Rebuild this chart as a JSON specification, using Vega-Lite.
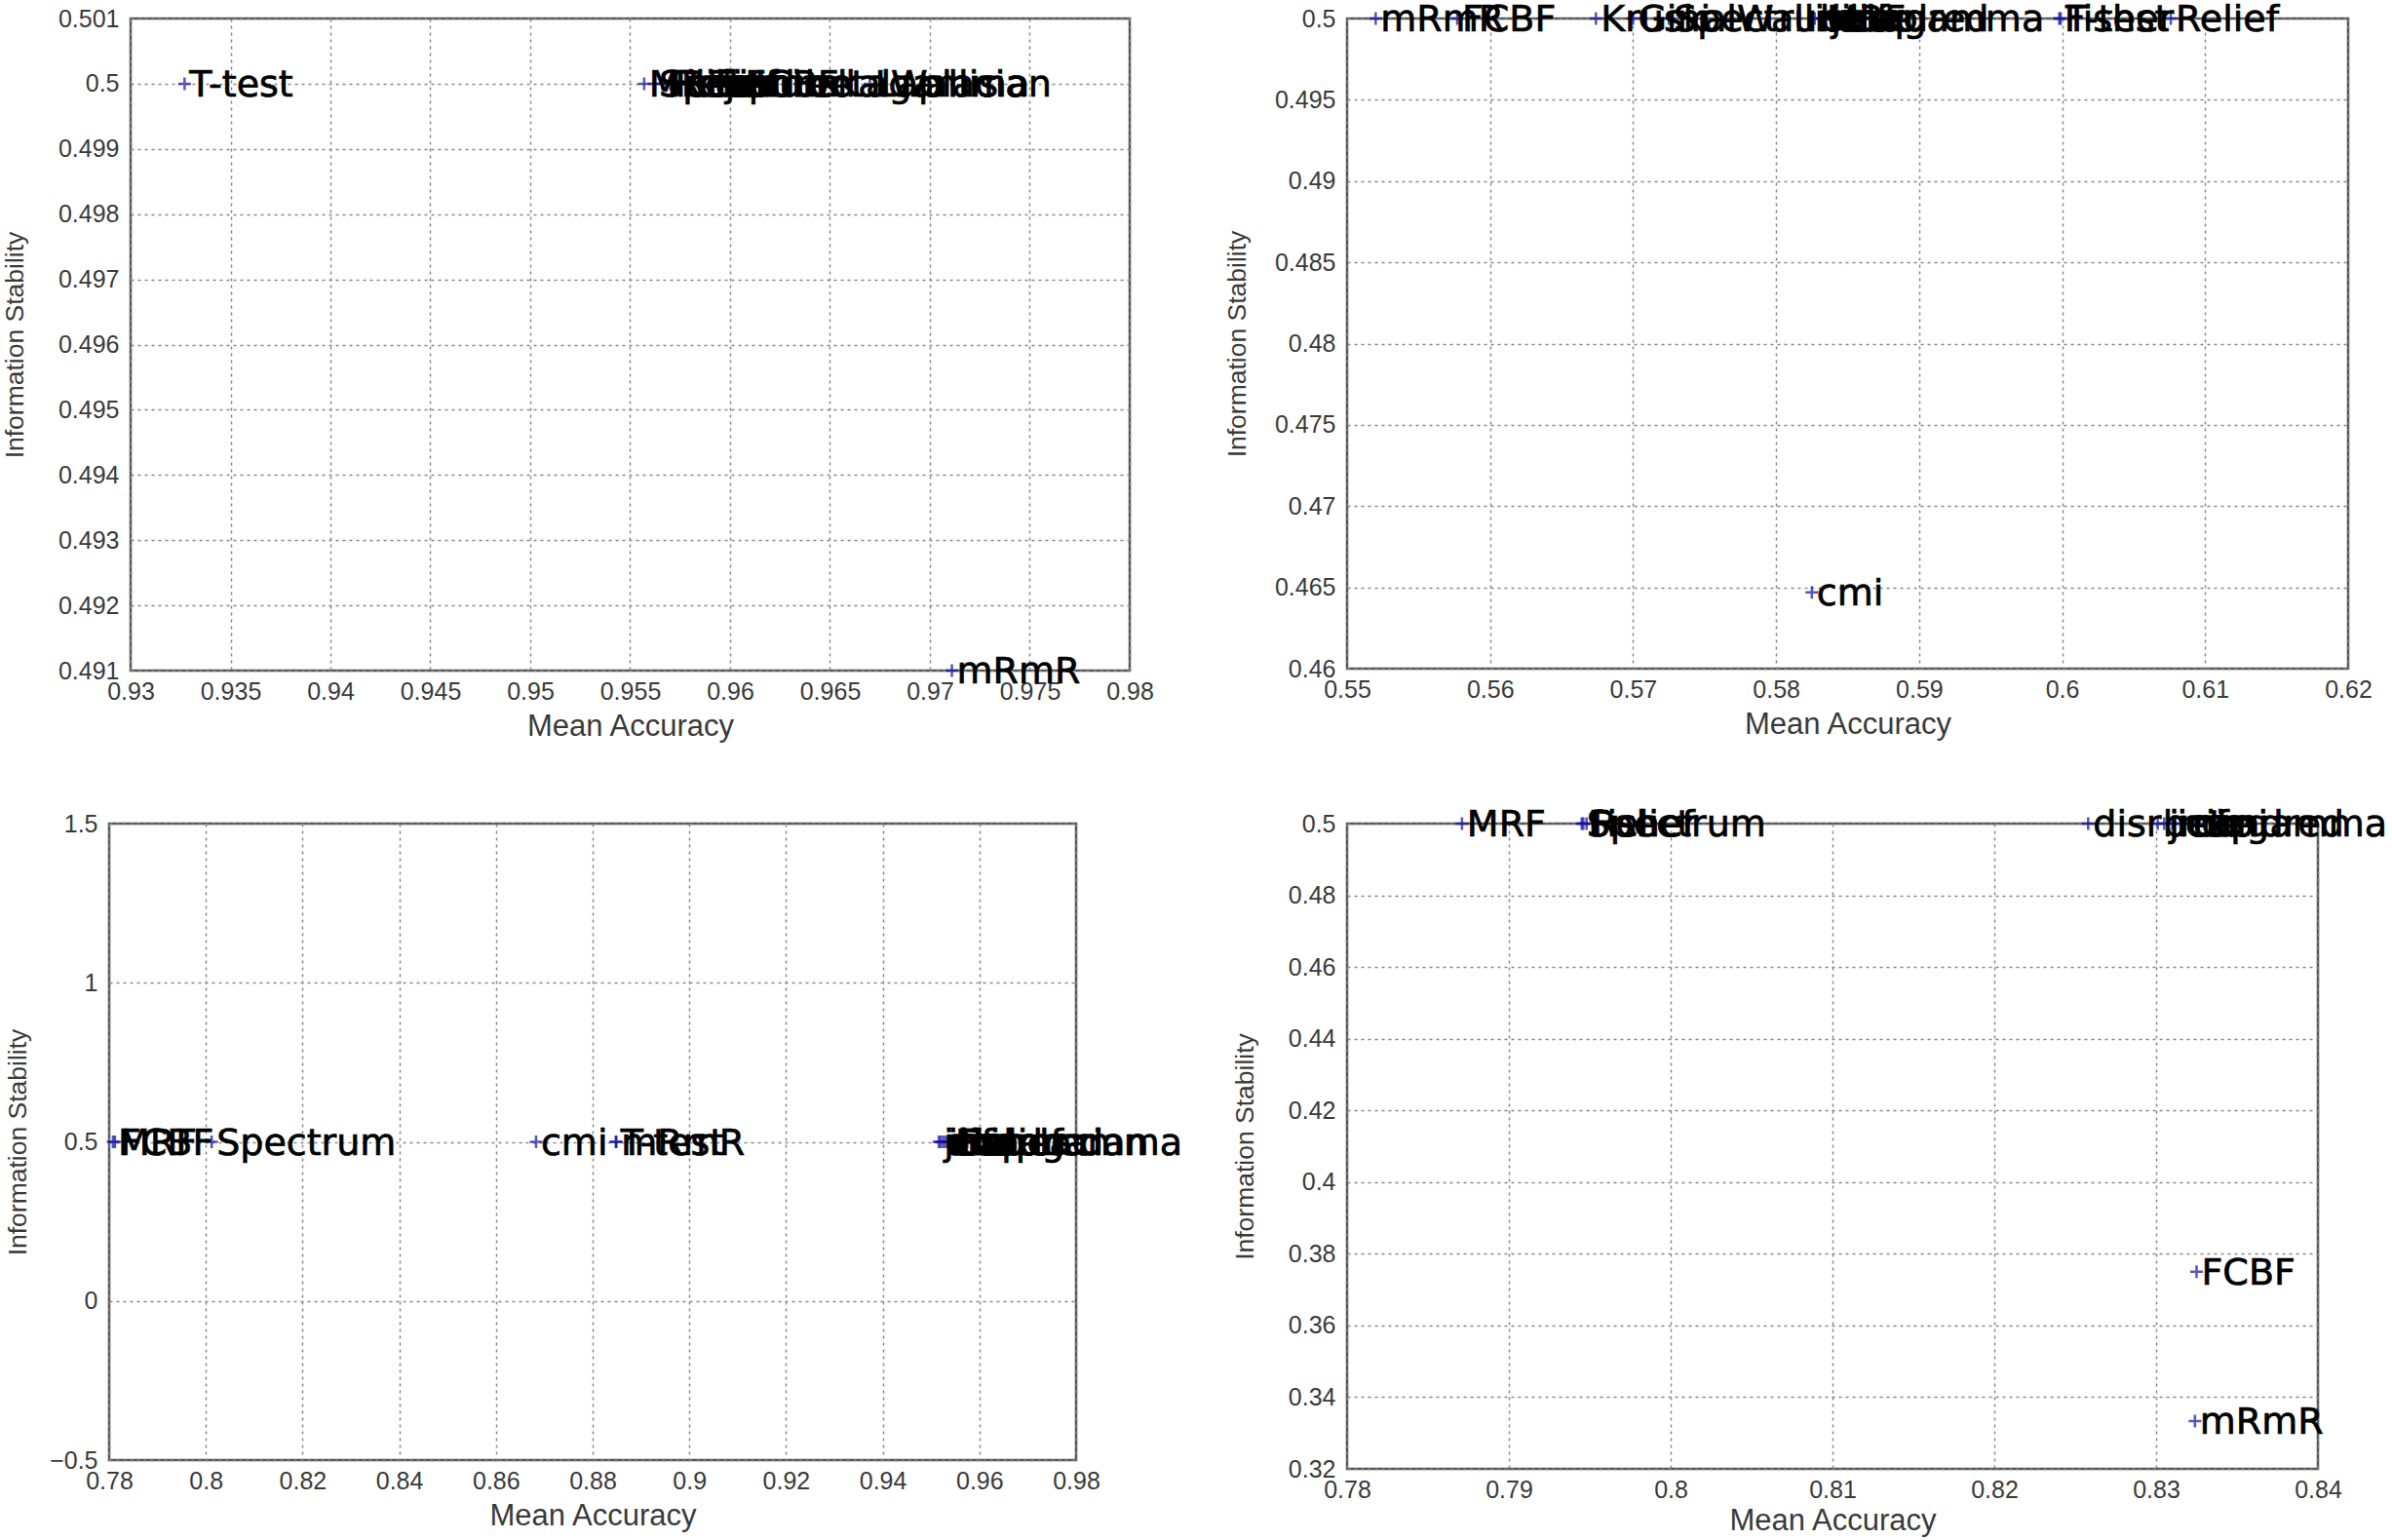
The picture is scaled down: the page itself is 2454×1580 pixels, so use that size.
{
  "$schema": "https://vega.github.io/schema/vega-lite/v6.json",
  "padding": {"left": 1, "top": 0, "right": 0, "bottom": 0},
  "background": "white",
  "datasets": {
    "p1": [
      {"method": "T-test", "acc": 0.9327, "stab": 0.5},
      {"method": "MRF", "acc": 0.9557, "stab": 0.5},
      {"method": "Spectrum", "acc": 0.9562, "stab": 0.5},
      {"method": "Fisher", "acc": 0.9566, "stab": 0.5},
      {"method": "Relief", "acc": 0.957, "stab": 0.5},
      {"method": "cife", "acc": 0.9575, "stab": 0.5},
      {"method": "icap", "acc": 0.958, "stab": 0.5},
      {"method": "condred", "acc": 0.9585, "stab": 0.5},
      {"method": "disr", "acc": 0.959, "stab": 0.5},
      {"method": "jmi", "acc": 0.9595, "stab": 0.5},
      {"method": "cmi", "acc": 0.96, "stab": 0.5},
      {"method": "FCBF", "acc": 0.9605, "stab": 0.5},
      {"method": "KruskalWallis", "acc": 0.961, "stab": 0.5},
      {"method": "betagamma", "acc": 0.9635, "stab": 0.5},
      {"method": "Laplacian", "acc": 0.967, "stab": 0.5},
      {"method": "mRmR", "acc": 0.9711, "stab": 0.491}
    ],
    "p2": [
      {"method": "mRmR", "acc": 0.552, "stab": 0.5},
      {"method": "FCBF", "acc": 0.5577, "stab": 0.5},
      {"method": "KruskalWallis", "acc": 0.5674, "stab": 0.5},
      {"method": "Gini", "acc": 0.57, "stab": 0.5},
      {"method": "Spectrum", "acc": 0.5725, "stab": 0.5},
      {"method": "betagamma", "acc": 0.5827, "stab": 0.5},
      {"method": "MRF", "acc": 0.5832, "stab": 0.5},
      {"method": "jmi", "acc": 0.5835, "stab": 0.5},
      {"method": "disr", "acc": 0.5838, "stab": 0.5},
      {"method": "condred", "acc": 0.584, "stab": 0.5},
      {"method": "icap", "acc": 0.5842, "stab": 0.5},
      {"method": "cife", "acc": 0.5845, "stab": 0.5},
      {"method": "Fisher", "acc": 0.5998, "stab": 0.5},
      {"method": "T-test", "acc": 0.5999, "stab": 0.5},
      {"method": "Relief", "acc": 0.6076, "stab": 0.5},
      {"method": "cmi", "acc": 0.5825, "stab": 0.4647}
    ],
    "p3": [
      {"method": "MRF", "acc": 0.7808, "stab": 0.5},
      {"method": "FCBF", "acc": 0.7812, "stab": 0.5},
      {"method": "Spectrum", "acc": 0.8012, "stab": 0.5},
      {"method": "cmi", "acc": 0.8683, "stab": 0.5},
      {"method": "T-test", "acc": 0.8848, "stab": 0.5},
      {"method": "mRmR", "acc": 0.8849, "stab": 0.5},
      {"method": "jmi", "acc": 0.9516, "stab": 0.5},
      {"method": "disr", "acc": 0.952, "stab": 0.5},
      {"method": "icap", "acc": 0.9525, "stab": 0.5},
      {"method": "cife", "acc": 0.953, "stab": 0.5},
      {"method": "condred", "acc": 0.9535, "stab": 0.5},
      {"method": "Fisher", "acc": 0.954, "stab": 0.5},
      {"method": "betagamma", "acc": 0.9545, "stab": 0.5},
      {"method": "Relief", "acc": 0.955, "stab": 0.5},
      {"method": "Laplacian", "acc": 0.9575, "stab": 0.5}
    ],
    "p4": [
      {"method": "MRF", "acc": 0.7871, "stab": 0.5},
      {"method": "Spectrum", "acc": 0.7945, "stab": 0.5},
      {"method": "Fisher", "acc": 0.7946, "stab": 0.5},
      {"method": "Relief", "acc": 0.7948, "stab": 0.5},
      {"method": "disr", "acc": 0.8258, "stab": 0.5},
      {"method": "betagamma", "acc": 0.8301, "stab": 0.5},
      {"method": "jmi", "acc": 0.8305, "stab": 0.5},
      {"method": "icap", "acc": 0.831, "stab": 0.5},
      {"method": "cife", "acc": 0.8315, "stab": 0.5},
      {"method": "condred", "acc": 0.832, "stab": 0.5},
      {"method": "cmi", "acc": 0.8325, "stab": 0.5},
      {"method": "FCBF", "acc": 0.8325, "stab": 0.375},
      {"method": "mRmR", "acc": 0.8324, "stab": 0.3333}
    ]
  },
  "config": {
    "view": {"stroke": "#555", "strokeWidth": 2.5},
    "axis": {
      "grid": true, "gridColor": "#888", "gridDash": [3, 4], "gridWidth": 1.5,
      "domain": false, "ticks": false,
      "labelFont": "Liberation Sans", "labelFontSize": 25, "labelColor": "#3a3a3a",
      "labelFlush": false, "labelOverlap": false,
      "titleFont": "Liberation Sans", "titleFontWeight": "normal", "titleColor": "#3a3a3a"
    },
    "axisX": {"labelPadding": 9, "titleFontSize": 31, "titlePadding": 8},
    "axisY": {"labelPadding": 12, "titleFontSize": 26.5, "titlePadding": 24}
  },
  "spacing": 64,
  "vconcat": [
    {
      "bounds": "flush",
      "spacing": 21,
      "hconcat": [
        {"width": 1, "height": 1, "data": {"values": []}, "mark": "point", "view": {"stroke": null}},
        {
          "bounds": "flush",
          "spacing": 223,
          "hconcat": [
            {
              "width": 1025, "height": 669,
              "data": {"name": "p1"},
              "encoding": {
                "x": {"field": "acc", "type": "quantitative", "scale": {"domain": [0.93, 0.98], "nice": false, "zero": false},
                      "axis": {"title": "Mean Accuracy", "format": "~g", "values": [0.93, 0.935, 0.94, 0.945, 0.95, 0.955, 0.96, 0.965, 0.97, 0.975, 0.98]}},
                "y": {"field": "stab", "type": "quantitative", "scale": {"domain": [0.491, 0.501], "nice": false, "zero": false},
                      "axis": {"title": "Information Stability", "titlePadding": 30, "format": "~g", "values": [0.491, 0.492, 0.493, 0.494, 0.495, 0.496, 0.497, 0.498, 0.499, 0.5, 0.501]}}
              },
              "layer": [
                {"mark": {"type": "point", "shape": "M-1,0H1M0,-1V1", "size": 169, "filled": false, "stroke": "#1010a0", "strokeWidth": 2.5}},
                {"mark": {"type": "text", "align": "left", "baseline": "middle", "dx": 5, "dy": 2, "font": "DejaVu Sans", "fontSize": 38, "color": "#000", "stroke": "#000", "strokeWidth": 0.7},
                 "encoding": {"text": {"field": "method"}}}
              ]
            },
            {
              "width": 1027, "height": 667,
              "data": {"name": "p2"},
              "encoding": {
                "x": {"field": "acc", "type": "quantitative", "scale": {"domain": [0.55, 0.62], "nice": false, "zero": false},
                      "axis": {"title": "Mean Accuracy", "format": "~g", "values": [0.55, 0.56, 0.57, 0.58, 0.59, 0.6, 0.61, 0.62]}},
                "y": {"field": "stab", "type": "quantitative", "scale": {"domain": [0.46, 0.5], "nice": false, "zero": false},
                      "axis": {"title": "Information Stability", "titlePadding": 24, "format": "~g", "values": [0.46, 0.465, 0.47, 0.475, 0.48, 0.485, 0.49, 0.495, 0.5]}}
              },
              "layer": [
                {"mark": {"type": "point", "shape": "M-1,0H1M0,-1V1", "size": 169, "filled": false, "stroke": "#1010a0", "strokeWidth": 2.5}},
                {"mark": {"type": "text", "align": "left", "baseline": "middle", "dx": 5, "dy": 2, "font": "DejaVu Sans", "fontSize": 38, "color": "#000", "stroke": "#000", "strokeWidth": 0.7},
                 "encoding": {"text": {"field": "method"}}}
              ]
            }
          ]
        }
      ]
    },
    {
      "bounds": "flush",
      "spacing": 278,
      "hconcat": [
        {
          "width": 992, "height": 653,
          "data": {"name": "p3"},
          "encoding": {
            "x": {"field": "acc", "type": "quantitative", "scale": {"domain": [0.78, 0.98], "nice": false, "zero": false},
                  "axis": {"title": "Mean Accuracy", "format": "~g", "values": [0.78, 0.8, 0.82, 0.84, 0.86, 0.88, 0.9, 0.92, 0.94, 0.96, 0.98]}},
            "y": {"field": "stab", "type": "quantitative", "scale": {"domain": [-0.5, 1.5], "nice": false, "zero": false},
                  "axis": {"title": "Information Stability", "titlePadding": 18, "format": "~g", "values": [-0.5, 0, 0.5, 1, 1.5]}}
          },
          "layer": [
            {"mark": {"type": "point", "shape": "M-1,0H1M0,-1V1", "size": 169, "filled": false, "stroke": "#1010a0", "strokeWidth": 2.5}},
            {"mark": {"type": "text", "align": "left", "baseline": "middle", "dx": 5, "dy": 2, "font": "DejaVu Sans", "fontSize": 38, "color": "#000", "stroke": "#000", "strokeWidth": 0.7},
             "encoding": {"text": {"field": "method"}}}
          ]
        },
        {
          "width": 996, "height": 662,
          "data": {"name": "p4"},
          "encoding": {
            "x": {"field": "acc", "type": "quantitative", "scale": {"domain": [0.78, 0.84], "nice": false, "zero": false},
                  "axis": {"title": "Mean Accuracy", "titlePadding": 4, "format": "~g", "values": [0.78, 0.79, 0.8, 0.81, 0.82, 0.83, 0.84]}},
            "y": {"field": "stab", "type": "quantitative", "scale": {"domain": [0.32, 0.5], "nice": false, "zero": false},
                  "axis": {"title": "Information Stability", "titlePadding": 30, "format": "~g", "values": [0.32, 0.34, 0.36, 0.38, 0.4, 0.42, 0.44, 0.46, 0.48, 0.5]}}
          },
          "layer": [
            {"mark": {"type": "point", "shape": "M-1,0H1M0,-1V1", "size": 169, "filled": false, "stroke": "#1010a0", "strokeWidth": 2.5}},
            {"mark": {"type": "text", "align": "left", "baseline": "middle", "dx": 5, "dy": 2, "font": "DejaVu Sans", "fontSize": 38, "color": "#000", "stroke": "#000", "strokeWidth": 0.7},
             "encoding": {"text": {"field": "method"}}}
          ]
        }
      ]
    }
  ]
}
